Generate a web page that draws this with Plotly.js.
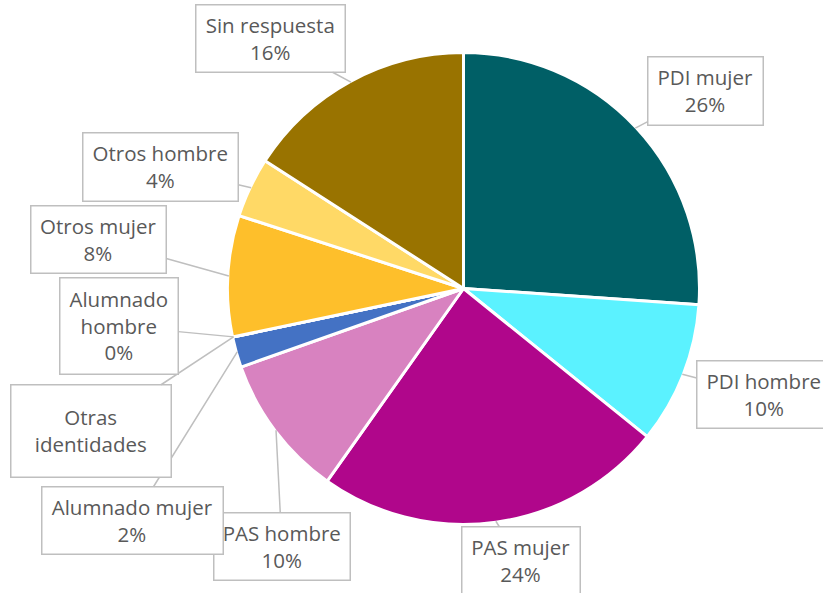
<!DOCTYPE html>
<html>
<head>
<meta charset="utf-8">
<script src="https://cdn.plot.ly/plotly-3.0.1.min.js"></script>
<style>html,body{margin:0;padding:0;background:#fff;}#chart{width:823px;height:593px;}</style>
</head>
<body>
<div id="chart"></div>
<script>
// Data
var categories = ["PDI mujer", "PDI hombre", "PAS mujer", "PAS hombre", "Alumnado mujer",
                  "Otras identidades", "Alumnado hombre", "Otros mujer", "Otros hombre", "Sin respuesta"];
var values = [26.1, 9.7, 24.0, 9.8, 2.1, 0, 0, 8.3, 4.1, 15.9];
var showPercent = [true, true, true, true, true, false, true, true, true, true];
var labelLines = ["PDI mujer", "PDI hombre", "PAS mujer", "PAS hombre", "Alumnado mujer",
                  "Otras<br>identidades", "Alumnado<br>hombre", "Otros mujer", "Otros hombre", "Sin respuesta"];
var colors = ["#005F66", "#5BF2FF", "#B0068B", "#D882C0", "#4472C4",
              "#A5A5A5", "#70AD47", "#FEBF2B", "#FFD966", "#997300"];

// Layout of label boxes (centre x, centre y, width, height) in pixels
var boxes = [
  [705.5, 91, 115, 68],
  [764, 394.5, 134, 67],
  [521, 561, 118, 68],
  [282, 546.5, 136, 67],
  [132.5, 520.5, 181, 67],
  [91, 431, 160, 92],
  [119, 326, 118, 96],
  [98.5, 239.5, 135, 67],
  [160.5, 167, 155, 68],
  [270.5, 38.5, 149, 67]
];

var W = 823, H = 593;
var cx = 463.5, cy = 288.5, R = 236;
var domX = [(cx - R) / W, (cx + R) / W];
var domY = [1 - (cy + R) / H, 1 - (cy - R) / H];

var total = values.reduce(function(a, b){ return a + b; }, 0);
var annotations = [];
var cum = 0;
for (var i = 0; i < values.length; i++) {
  var mid = (cum + values[i] / 2) / total * 2 * Math.PI;
  cum += values[i];
  var px = cx + (R - 1) * Math.sin(mid);
  var py = cy - (R - 1) * Math.cos(mid);
  var pct = Math.round(values[i] / total * 100);
  var txt = labelLines[i] + (showPercent[i] ? "<br>" + pct + "%" : "");
  var b = boxes[i];
  annotations.push({
    x: px / W, y: 1 - py / H, xref: "paper", yref: "paper",
    ax: b[0] - px, ay: b[1] - py, axref: "pixel", ayref: "pixel",
    text: txt, showarrow: true, arrowhead: 0, arrowwidth: 1.5, arrowcolor: "#BFBFBF",
    standoff: 0, startstandoff: 0,
    bordercolor: "#BFBFBF", borderwidth: 1.5, borderpad: 0, bgcolor: "#FFFFFF",
    width: b[2] - 1.5, height: b[3] - 1.5, align: "center", valign: "middle",
    font: {family: "Open Sans, sans-serif", size: 20.5, color: "#595959"}
  });
}

var trace = {
  type: "pie",
  labels: categories,
  values: values,
  sort: false,
  direction: "clockwise",
  rotation: 0,
  marker: {colors: colors, line: {color: "#FFFFFF", width: 3}},
  textinfo: "none",
  hoverinfo: "label+percent",
  domain: {x: domX, y: domY},
  showlegend: false
};

var layout = {
  width: W, height: H,
  margin: {l: 0, r: 0, t: 0, b: 0},
  paper_bgcolor: "#FFFFFF",
  plot_bgcolor: "#FFFFFF",
  showlegend: false,
  annotations: annotations
};

Plotly.newPlot("chart", [trace], layout, {displayModeBar: false, staticPlot: true});
</script>
</body>
</html>
